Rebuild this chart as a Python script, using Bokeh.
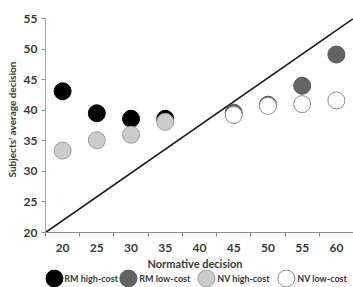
from bokeh.plotting import figure
from bokeh.layouts import column
from bokeh.models import FixedTicker, Title
from bokeh.core.properties import value
from bokeh.embed import file_html
from bokeh.resources import INLINE

# Normative decision categories shown along the x axis
categories = [20, 25, 30, 35, 40, 45, 50, 55, 60]

# Subjects' average decision per condition
rm_high_x = [20, 25, 30, 35]
rm_high_y = [43.1, 39.5, 38.6, 38.6]
rm_low_x = [45, 50, 55, 60]
rm_low_y = [39.6, 40.9, 44.0, 49.1]
nv_high_x = [20, 25, 30, 35]
nv_high_y = [33.4, 35.1, 36.0, 38.1]
nv_low_x = [45, 50, 55, 60]
nv_low_y = [39.2, 40.7, 41.0, 41.6]

# Reference diagonal, corner to corner of the plot area
diag_x = [17.5, 62.5]
diag_y = [20, 55]

y_ticks = [20, 25, 30, 35, 40, 45, 50, 55]

series_names = ["RM high-cost", "RM low-cost", "NV high-cost", "NV low-cost"]
series_fill = ["#000000", "#636363", "#cccccc", "#ffffff"]
series_line = ["#000000", "#555555", "#9a9a9a", "#8c8c8c"]

FONT = "Lato"
TEXT = "#3a3a3a"
AXIS = "#8c8c8c"
LEFT, WIDTH = 41, 353

half = (categories[1] - categories[0]) / 2
bounds = [c - half for c in categories] + [categories[-1] + half]

p = figure(width=WIDTH, height=269, output_backend="svg", toolbar_location=None,
           x_range=(bounds[0], bounds[-1]), y_range=(y_ticks[0], y_ticks[-1]),
           min_border_left=LEFT, min_border_right=0, min_border_top=18,
           min_border_bottom=36)
p.outline_line_color = None
p.xgrid.visible = False
p.ygrid.visible = False

p.line(diag_x, diag_y, line_color="#1a1a1a", line_width=1.6)

series = [(rm_high_x, rm_high_y), (rm_low_x, rm_low_y),
          (nv_high_x, nv_high_y), (nv_low_x, nv_low_y)]
for (xs, ys), fc, lc in zip(series, series_fill, series_line):
    p.scatter(xs, ys, size=17, fill_color=fc, line_color=lc)

# x axis: labels centred on categories, tick marks on category boundaries
xa = p.xaxis[0]
xa.ticker = FixedTicker(ticks=categories, minor_ticks=bounds)
xa.major_tick_out = 0
xa.major_tick_in = 0
xa.minor_tick_out = 4
xa.minor_tick_in = 0
xa.minor_tick_line_color = AXIS
xa.axis_line_color = AXIS
xa.major_label_standoff = 7

ya = p.yaxis[0]
ya.ticker = FixedTicker(ticks=y_ticks, minor_ticks=[])
ya.major_tick_out = 4
ya.major_tick_in = 0
ya.major_tick_line_color = AXIS
ya.axis_line_color = "#a8a8a8"
ya.major_label_standoff = 4

for ax in (xa, ya):
    ax.major_label_text_font = FONT
    ax.major_label_text_font_style = "bold"
    ax.major_label_text_font_size = "12px"
    ax.major_label_text_color = TEXT

x_title = Title(text="Normative decision", align="left", offset=102, standoff=0,
                text_font=FONT, text_font_style="bold", text_font_size="11px",
                text_color=TEXT)
p.add_layout(x_title, "below")

y_title = Title(text="Subjects\u2019 average decision", align="left", offset=55,
                standoff=6, text_font=FONT, text_font_style="bold",
                text_font_size="10px", text_color=TEXT)
p.add_layout(y_title, "left")

# Key strip underneath the chart; its frame lines up with the chart's and
# its x range is in page pixels
STRIP_H = 18
swatch_x = [50, 125, 204, 285]
label_x = [60, 136, 215, 296]

leg = figure(width=WIDTH, height=STRIP_H, output_backend="svg",
             toolbar_location=None, x_range=(LEFT, WIDTH), y_range=(0, STRIP_H),
             x_axis_location=None, y_axis_location=None,
             min_border=0, min_border_left=LEFT, min_border_right=0,
             min_border_top=0, min_border_bottom=0)
leg.outline_line_color = None
leg.xgrid.visible = False
leg.ygrid.visible = False

mid = [STRIP_H / 2] * len(series_names)
leg.scatter(swatch_x, mid, size=17, fill_color=series_fill, line_color=series_line)
leg.text(label_x, mid, text=series_names, text_font=value(FONT),
         text_font_style="bold", text_font_size="9px", text_color=TEXT,
         text_baseline="middle", text_align="left")

layout = column(p, leg, spacing=0)
open("out.html", "w").write(file_html(layout, INLINE))
